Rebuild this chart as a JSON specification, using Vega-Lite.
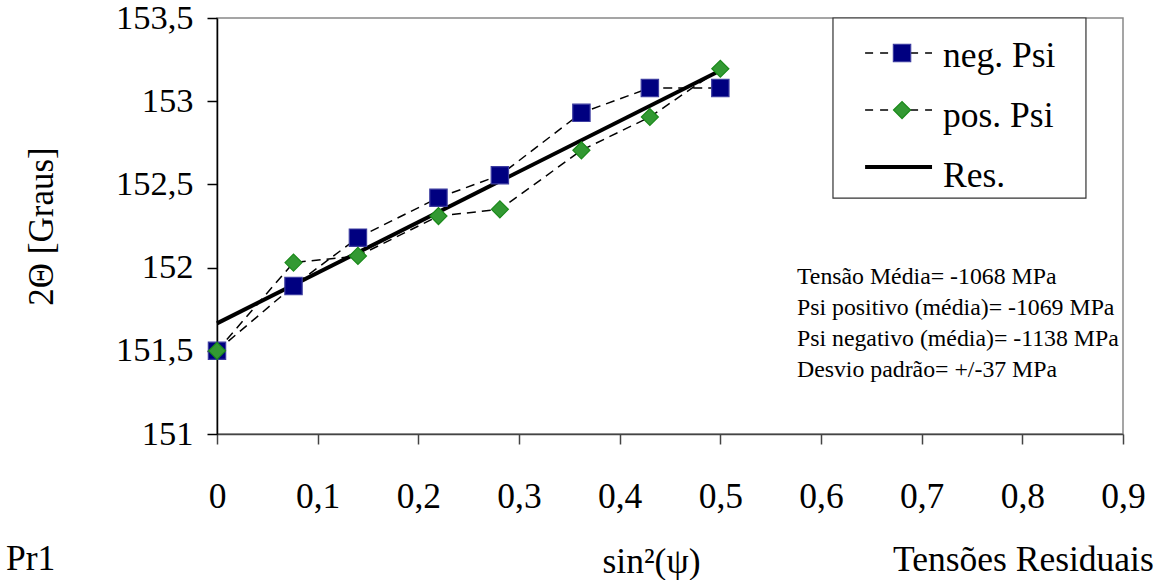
{
  "$schema": "https://vega.github.io/schema/vega-lite/v6.json",
  "width": 906,
  "height": 416,
  "autosize": {"type": "none"},
  "padding": {"left": 217, "top": 18, "right": 40, "bottom": 146},
  "background": "white",
  "config": {
    "font": "Times New Roman, Liberation Serif, serif",
    "view": {"stroke": "#888888", "strokeWidth": 1.5},
    "axis": {"grid": false, "labelFont": "Times New Roman, Liberation Serif, serif", "titleFont": "Times New Roman, Liberation Serif, serif", "labelColor": "black", "titleColor": "black", "titleFontWeight": "normal", "labelFlush": false, "labelOverlap": false}
  },
  "datasets": {
    "pts": [
      {"series": "neg. Psi", "x": 0, "y": 151.5},
      {"series": "neg. Psi", "x": 0.076, "y": 151.89},
      {"series": "neg. Psi", "x": 0.14, "y": 152.18},
      {"series": "neg. Psi", "x": 0.22, "y": 152.42},
      {"series": "neg. Psi", "x": 0.281, "y": 152.555},
      {"series": "neg. Psi", "x": 0.362, "y": 152.93},
      {"series": "neg. Psi", "x": 0.43, "y": 153.08},
      {"series": "neg. Psi", "x": 0.5, "y": 153.08},
      {"series": "pos. Psi", "x": 0, "y": 151.5},
      {"series": "pos. Psi", "x": 0.076, "y": 152.03},
      {"series": "pos. Psi", "x": 0.14, "y": 152.07},
      {"series": "pos. Psi", "x": 0.22, "y": 152.31},
      {"series": "pos. Psi", "x": 0.281, "y": 152.35},
      {"series": "pos. Psi", "x": 0.362, "y": 152.705},
      {"series": "pos. Psi", "x": 0.43, "y": 152.905},
      {"series": "pos. Psi", "x": 0.5, "y": 153.195}
    ],
    "res": [
      {"x": 0, "y": 151.665},
      {"x": 0.5, "y": 153.185}
    ],
    "legbox": [{"x": 0.6119, "x2": 0.8632, "y": 153.5, "y2": 152.418}],
    "leg": [
      {"series": "neg. Psi", "x": 0.6438, "x2": 0.7103, "xs": 0.6805, "y": 153.29, "ty": 153.206, "tx": 0.7212, "dash": "d"},
      {"series": "pos. Psi", "x": 0.6438, "x2": 0.7103, "xs": 0.6805, "y": 152.947, "ty": 152.845, "tx": 0.7212, "dash": "d"},
      {"series": "Res.", "x": 0.6438, "x2": 0.7103, "xs": 0.6805, "y": 152.605, "ty": 152.484, "tx": 0.7212, "dash": "s"}
    ],
    "notes": [
      {"x": 0.5761, "y": 151.943, "text": "Tensão Média= -1068 MPa"},
      {"x": 0.5761, "y": 151.757, "text": "Psi positivo (média)= -1069 MPa"},
      {"x": 0.5761, "y": 151.571, "text": "Psi negativo (média)= -1138 MPa"},
      {"x": 0.5761, "y": 151.385, "text": "Desvio padrão= +/-37 MPa"}
    ],
    "outer": [
      {"x": -0.2096, "y": 150.183, "text": "Pr1"},
      {"x": 0.6715, "y": 150.177, "text": "Tensões Residuais"}
    ]
  },
  "layer": [
    {
      "data": {"name": "pts"},
      "mark": {"type": "line", "color": "black", "strokeWidth": 1.5, "strokeDash": [9, 6]},
      "encoding": {
        "x": {"field": "x", "type": "quantitative", "scale": {"domain": [0, 0.9], "nice": false, "zero": false},
          "axis": {"values": [0, 0.1, 0.2, 0.3, 0.4, 0.5, 0.6, 0.7, 0.8, 0.9], "labelExpr": "datum.value == 0 ? '0' : replace(format(datum.value, '.1f'), '.', ',')",
            "labelFontSize": 35.5, "labelPadding": 63, "labelBaseline": "alphabetic", "labelAlign": "center", "tickSize": 10, "tickColor": "#444444", "tickWidth": 1.5, "domainColor": "#444444", "domainWidth": 1.5,
            "title": "sin²(ψ)", "titleFontSize": 35.5, "titleX": 434, "titleY": 138, "titleBaseline": "alphabetic", "titleAlign": "center"}},
        "y": {"field": "y", "type": "quantitative", "scale": {"domain": [151, 153.5], "nice": false, "zero": false},
          "axis": {"values": [151, 151.5, 152, 152.5, 153, 153.5], "labelExpr": "replace(format(datum.value, '~g'), '.', ',')",
            "labelFontSize": 34.5, "labelPadding": 14, "labelBaseline": "middle", "tickSize": 10, "tickColor": "black", "tickWidth": 1.5, "domainColor": "black", "domainWidth": 1.5,
            "title": "2Θ [Graus]", "titleFontSize": 35, "titleX": -176, "titleY": 208, "titleAngle": -90, "titleBaseline": "middle", "titleAlign": "center"}},
        "detail": {"field": "series"}
      }
    },
    {
      "data": {"name": "res"},
      "mark": {"type": "line", "color": "black", "strokeWidth": 4},
      "encoding": {
        "x": {"field": "x", "type": "quantitative"},
        "y": {"field": "y", "type": "quantitative"}
      }
    },
    {
      "data": {"name": "pts"},
      "mark": {"type": "point", "filled": true, "opacity": 1, "strokeWidth": 1.2},
      "encoding": {
        "x": {"field": "x", "type": "quantitative"},
        "y": {"field": "y", "type": "quantitative"},
        "shape": {"field": "series", "type": "nominal", "scale": {"domain": ["neg. Psi", "pos. Psi"], "range": ["square", "diamond"]}, "legend": null},
        "fill": {"field": "series", "type": "nominal", "scale": {"domain": ["neg. Psi", "pos. Psi"], "range": ["#000080", "#339933"]}, "legend": null},
        "stroke": {"field": "series", "type": "nominal", "scale": {"domain": ["neg. Psi", "pos. Psi"], "range": ["#3c3ca0", "#1a8a1a"]}, "legend": null},
        "size": {"field": "series", "type": "nominal", "scale": {"domain": ["neg. Psi", "pos. Psi"], "range": [300, 290]}, "legend": null}
      }
    },
    {
      "data": {"name": "legbox"},
      "mark": {"type": "rect", "fill": "white", "stroke": "#333333", "strokeWidth": 1.2},
      "encoding": {
        "x": {"field": "x", "type": "quantitative"},
        "x2": {"field": "x2"},
        "y": {"field": "y", "type": "quantitative"},
        "y2": {"field": "y2"}
      }
    },
    {
      "data": {"name": "leg"},
      "transform": [{"filter": "datum.dash == 'd'"}],
      "mark": {"type": "rule", "color": "black", "strokeWidth": 1.5, "strokeDash": [8, 7]},
      "encoding": {
        "x": {"field": "x", "type": "quantitative"},
        "x2": {"field": "x2"},
        "y": {"field": "y", "type": "quantitative"}
      }
    },
    {
      "data": {"name": "leg"},
      "transform": [{"filter": "datum.dash == 's'"}],
      "mark": {"type": "rule", "color": "black", "strokeWidth": 4},
      "encoding": {
        "x": {"field": "x", "type": "quantitative"},
        "x2": {"field": "x2"},
        "y": {"field": "y", "type": "quantitative"}
      }
    },
    {
      "data": {"name": "leg"},
      "transform": [{"filter": "datum.dash == 'd'"}],
      "mark": {"type": "point", "filled": true, "opacity": 1, "strokeWidth": 1.2},
      "encoding": {
        "x": {"field": "xs", "type": "quantitative"},
        "y": {"field": "y", "type": "quantitative"},
        "shape": {"field": "series", "type": "nominal", "legend": null},
        "fill": {"field": "series", "type": "nominal", "legend": null},
        "stroke": {"field": "series", "type": "nominal", "legend": null},
        "size": {"field": "series", "type": "nominal", "legend": null}
      }
    },
    {
      "data": {"name": "leg"},
      "mark": {"type": "text", "align": "left", "baseline": "alphabetic", "fontSize": 35.5, "font": "Times New Roman, Liberation Serif, serif", "color": "black"},
      "encoding": {
        "x": {"field": "tx", "type": "quantitative"},
        "y": {"field": "ty", "type": "quantitative"},
        "text": {"field": "series"}
      }
    },
    {
      "data": {"name": "notes"},
      "mark": {"type": "text", "align": "left", "baseline": "middle", "fontSize": 23.8, "font": "Times New Roman, Liberation Serif, serif", "color": "black"},
      "encoding": {
        "x": {"field": "x", "type": "quantitative"},
        "y": {"field": "y", "type": "quantitative"},
        "text": {"field": "text"}
      }
    },
    {
      "data": {"name": "outer"},
      "mark": {"type": "text", "align": "left", "baseline": "alphabetic", "fontSize": 35.5, "font": "Times New Roman, Liberation Serif, serif", "color": "black"},
      "encoding": {
        "x": {"field": "x", "type": "quantitative"},
        "y": {"field": "y", "type": "quantitative"},
        "text": {"field": "text"}
      }
    }
  ]
}
